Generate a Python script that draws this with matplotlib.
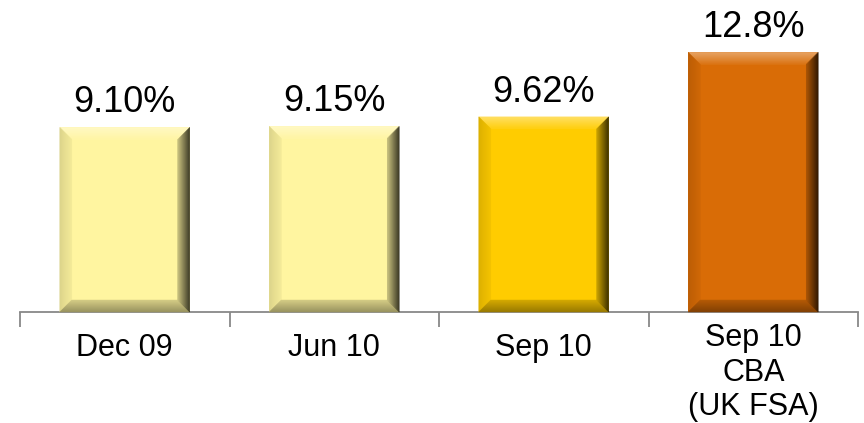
import matplotlib.pyplot as plt
import matplotlib.colors as mcolors
from matplotlib.patches import Polygon
from matplotlib.transforms import IdentityTransform
import numpy as np

# Данные
categories = ['Dec 09', 'Jun 10', 'Sep 10', 'Sep 10\nCBA\n(UK FSA)']
values = [9.10, 9.15, 9.62, 12.8]
labels = ['9.10%', '9.15%', '9.62%', '12.8%']
colors = ['#FFF5A0', '#FFF5A0', '#FFCC00', '#D96C06']

plt.rcParams['font.family'] = ['Liberation Sans', 'DejaVu Sans']

fig = plt.figure(figsize=(8.64, 4.23), dpi=100)
ax = fig.add_axes([20 / 864, 111 / 423, 838 / 864, 312 / 423])

x = np.arange(len(values))
bars = ax.bar(x, values, width=0.62, color=colors, edgecolor='none', zorder=2)
ax.set_xlim(-0.5, len(values) - 0.5)
ax.set_ylim(0, 15.38)


def mix(c, other, k):
    c = np.array(mcolors.to_rgb(c))
    o = np.array(mcolors.to_rgb(other))
    return tuple(c * (1 - k) + o * k)


def bevel(patch, color, b=12, n=12):
    # рамка-скос вокруг столбца, рисуется в пикселях
    (x0, y0), (x1, y1) = ax.transData.transform(
        [(patch.get_x(), patch.get_y()),
         (patch.get_x() + patch.get_width(), patch.get_y() + patch.get_height())])
    sides = {
        'top': (mix(color, 'white', 0.4), mix(color, 'white', 0.08)),
        'left': (mix(color, 'black', 0.14), mix(color, 'black', 0.05)),
        'bottom': (mix(color, 'black', 0.4), mix(color, 'black', 0.18)),
        'right': (mix(color, 'black', 0.8), mix(color, 'black', 0.25)),
    }
    for i in range(n):
        d1 = b * i / n
        d2 = b * (i + 1) / n
        t = i / (n - 1)
        pts = {
            'top': [(x0 + d1, y1 - d1), (x1 - d1, y1 - d1), (x1 - d2, y1 - d2), (x0 + d2, y1 - d2)],
            'bottom': [(x0 + d1, y0 + d1), (x1 - d1, y0 + d1), (x1 - d2, y0 + d2), (x0 + d2, y0 + d2)],
            'left': [(x0 + d1, y0 + d1), (x0 + d1, y1 - d1), (x0 + d2, y1 - d2), (x0 + d2, y0 + d2)],
            'right': [(x1 - d1, y0 + d1), (x1 - d1, y1 - d1), (x1 - d2, y1 - d2), (x1 - d2, y0 + d2)],
        }
        for side, (c_out, c_in) in sides.items():
            c = tuple(np.array(c_out) * (1 - t) + np.array(c_in) * t)
            poly = Polygon(pts[side], closed=True, facecolor=c, edgecolor=c,
                           linewidth=0.3, transform=IdentityTransform(), zorder=3)
            fig.add_artist(poly)


for bar, c in zip(bars, colors):
    bevel(bar, c)

# Подписи значений
for xi, v, lab in zip(x, values, labels):
    ax.annotate(lab, (xi, v), xytext=(0, 10.8), textcoords='offset points',
                ha='center', va='baseline', fontsize=26, color='black')

# Ось X
for s in ['top', 'right', 'left']:
    ax.spines[s].set_visible(False)
ax.spines['bottom'].set_color('#888888')
ax.spines['bottom'].set_linewidth(1.3)
ax.set_yticks([])
ax.set_xticks(x)
ax.set_xticklabels(categories, fontsize=22, linespacing=1.2)
ax.tick_params(axis='x', which='major', length=0, pad=15)
ax.set_xticks(np.arange(len(values) + 1) - 0.5, minor=True)
ax.tick_params(axis='x', which='minor', length=10.5, width=1.3, color='#888888', direction='out')
ax.xaxis.get_major_ticks()[3].set_pad(8)

plt.savefig('out.png', dpi=100)
